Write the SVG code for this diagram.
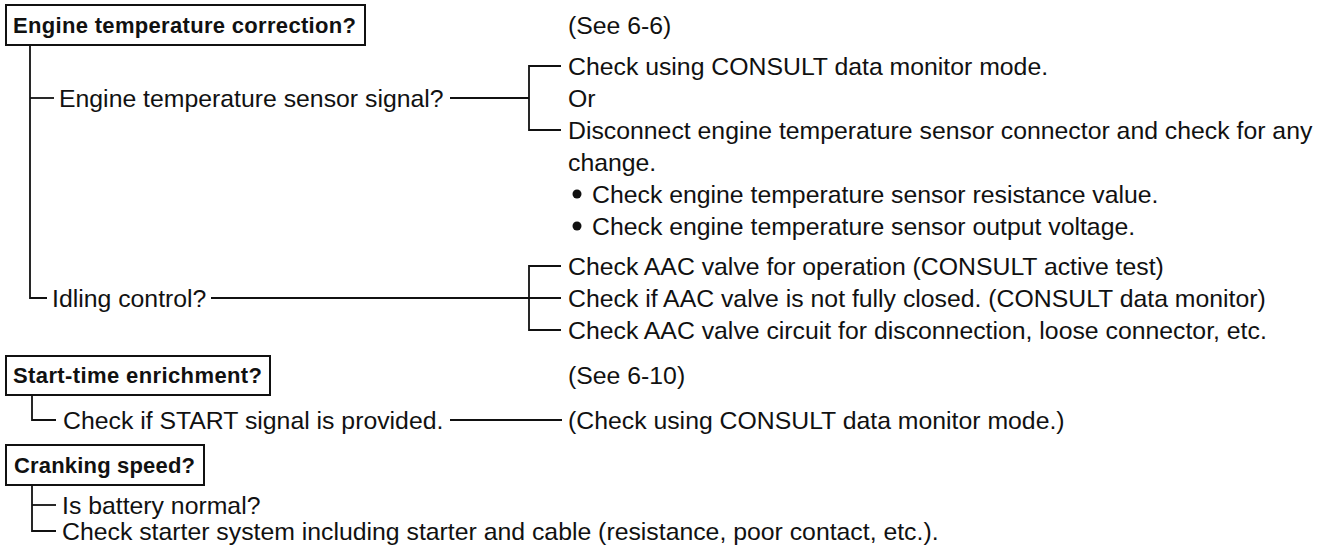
<svg xmlns="http://www.w3.org/2000/svg" width="1317" height="549" viewBox="0 0 1317 549">
<style>
.t{font-family:"Liberation Sans",Arial,Helvetica,sans-serif;font-size:24.8px;fill:#111}
.b{font-family:"Liberation Sans",Arial,Helvetica,sans-serif;font-size:22px;font-weight:bold;fill:#111}
.box{fill:#fff;stroke:#111;stroke-width:2}
.ln{fill:none;stroke:#111;stroke-width:1.8}
</style>
<rect width="1317" height="549" fill="#fff"/>
<g id="connectors">
<path class="ln" d="M30,45 V298 H47"/>
<path class="ln" d="M30,98 H54"/>
<path class="ln" d="M450,98 H529"/>
<path class="ln" d="M561,66 H529 V130 H561"/>
<path class="ln" d="M211,298 H561"/>
<path class="ln" d="M561,266 H529 V330 H561"/>
<path class="ln" d="M32,395 V420 H56"/>
<path class="ln" d="M450,420 H562"/>
<path class="ln" d="M32,485 V531 H56"/>
<path class="ln" d="M32,505 H56"/>
</g>
<g id="n-engine-temp">
<rect class="box" x="6" y="5" width="359" height="40"/>
<text class="b" x="13" y="33" textLength="343" lengthAdjust="spacing">Engine temperature correction?</text>
</g>
<g id="n-see66"><text class="t" x="568" y="34">(See 6-6)</text></g>
<g id="n-sensor-signal"><text class="t" x="59" y="107">Engine temperature sensor signal?</text></g>
<g id="n-consult-monitor"><text class="t" x="568" y="75">Check using CONSULT data monitor mode.</text></g>
<g id="n-or"><text class="t" x="568" y="107">Or</text></g>
<g id="n-disconnect">
<text class="t" x="568" y="139">Disconnect engine temperature sensor connector and check for any</text>
<text class="t" x="568" y="171">change.</text>
</g>
<g id="n-bullet1">
<circle cx="577" cy="194" r="4.5" fill="#111"/>
<text class="t" x="592" y="203">Check engine temperature sensor resistance value.</text>
</g>
<g id="n-bullet2">
<circle cx="577" cy="226" r="4.5" fill="#111"/>
<text class="t" x="592" y="235">Check engine temperature sensor output voltage.</text>
</g>
<g id="n-idling"><text class="t" x="52" y="307">Idling control?</text></g>
<g id="n-aac1"><text class="t" x="568" y="275">Check AAC valve for operation (CONSULT active test)</text></g>
<g id="n-aac2"><text class="t" x="568" y="307">Check if AAC valve is not fully closed. (CONSULT data monitor)</text></g>
<g id="n-aac3"><text class="t" x="568" y="339">Check AAC valve circuit for disconnection, loose connector, etc.</text></g>
<g id="n-start-time">
<rect class="box" x="6" y="356" width="264" height="39"/>
<text class="b" x="13" y="383" textLength="249" lengthAdjust="spacing">Start-time enrichment?</text>
</g>
<g id="n-see610"><text class="t" x="568" y="384">(See 6-10)</text></g>
<g id="n-start-signal"><text class="t" x="63" y="429">Check if START signal is provided.</text></g>
<g id="n-start-consult"><text class="t" x="568" y="429">(Check using CONSULT data monitor mode.)</text></g>
<g id="n-cranking">
<rect class="box" x="6" y="445" width="198" height="40"/>
<text class="b" x="14" y="473" textLength="181" lengthAdjust="spacing">Cranking speed?</text>
</g>
<g id="n-battery"><text class="t" x="62" y="514">Is battery normal?</text></g>
<g id="n-starter"><text class="t" x="62" y="540">Check starter system including starter and cable (resistance, poor contact, etc.).</text></g>
</svg>
